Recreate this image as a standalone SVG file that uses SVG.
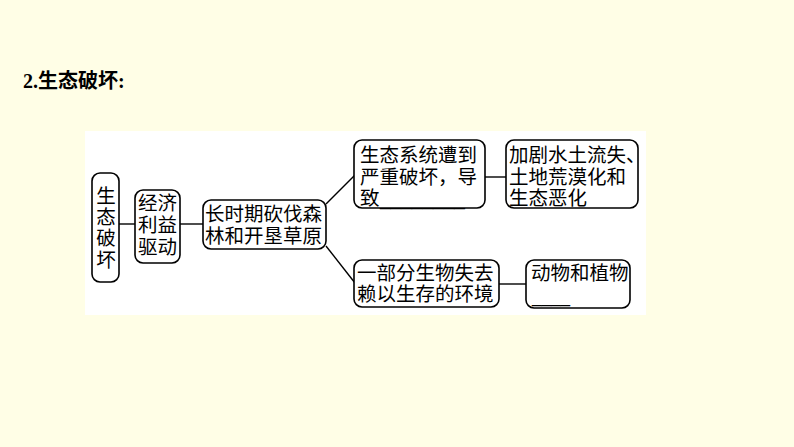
<svg xmlns="http://www.w3.org/2000/svg" width="794" height="447" viewBox="0 0 794 447">
<style>
.box{fill:#fff;stroke:#000;stroke-width:1.6}
.t{font-family:"Noto Sans CJK SC","Noto Sans CJK JP",sans-serif;font-size:19.5px;fill:#000}
.c line{stroke:#000;stroke-width:1.4}
.u{font-family:"Liberation Sans",sans-serif;font-size:19.5px}
</style>
<rect x="0" y="0" width="794" height="447" fill="#FFFEE6"/>
<text x="23" y="88" style="font-family:'Liberation Serif','Noto Sans CJK SC',serif;font-size:20px;font-weight:bold">2.生态破坏:</text>
<rect x="85" y="131" width="561" height="184" fill="#fff"/>
<g class="c" id="connectors">
<line x1="119" y1="224" x2="135" y2="224"/>
<line x1="180" y1="224" x2="203" y2="224"/>
<line x1="326" y1="204" x2="355" y2="175"/>
<line x1="326" y1="246" x2="355" y2="283"/>
<line x1="485" y1="177" x2="506" y2="177"/>
<line x1="499" y1="284" x2="526" y2="284"/>
</g>
<g id="n1">
<rect class="box" x="92" y="173" width="27" height="109" rx="8"/>
<text class="t" x="106" text-anchor="middle"><tspan x="106" y="203">生</tspan><tspan x="106" y="224">态</tspan><tspan x="106" y="245">破</tspan><tspan x="106" y="267">坏</tspan></text>
</g>
<g id="n2">
<rect class="box" x="135" y="190" width="45" height="73" rx="8"/>
<text class="t"><tspan x="138" y="210">经济</tspan><tspan x="138" y="232">利益</tspan><tspan x="138" y="254">驱动</tspan></text>
</g>
<g id="n3">
<rect class="box" x="203" y="200" width="123" height="49" rx="8"/>
<text class="t"><tspan x="205" y="221">长时期砍伐森</tspan><tspan x="205" y="243">林和开垦草原</tspan></text>
</g>
<g id="n4">
<rect class="box" x="354" y="140" width="131" height="68" rx="8"/>
<text class="t"><tspan x="360" y="162">生态系统遭到</tspan><tspan x="360" y="184">严重破坏，导</tspan><tspan x="360" y="205">致</tspan><tspan class="u" x="380" y="205" textLength="85" lengthAdjust="spacingAndGlyphs">________</tspan></text>
</g>
<g id="n5">
<rect class="box" x="506" y="140" width="132" height="68" rx="8"/>
<text class="t"><tspan x="509" y="162">加剧水土流失、</tspan><tspan x="509" y="184">土地荒漠化和</tspan><tspan x="509" y="205">生态恶化</tspan></text>
</g>
<g id="n6">
<rect class="box" x="354" y="260" width="145" height="47" rx="8"/>
<text class="t"><tspan x="357" y="280">一部分生物失去</tspan><tspan x="357" y="301">赖以生存的环境</tspan></text>
</g>
<g id="n7">
<rect class="box" x="526" y="260" width="104" height="48" rx="8"/>
<text class="t"><tspan x="531" y="280">动物和植物</tspan><tspan class="u" x="532" y="302" textLength="38" lengthAdjust="spacingAndGlyphs">____</tspan></text>
</g>
</svg>
